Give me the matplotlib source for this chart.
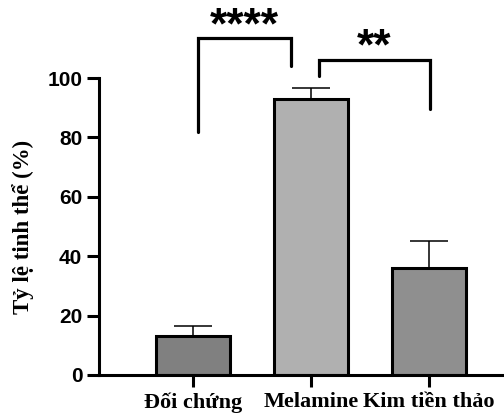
import matplotlib.pyplot as plt
import numpy as np

groups = ["Đối chứng", "Melamine", "Kim tiền thảo"]
means = [13, 93, 36]
errs = [3.6, 3.5, 9.2]
colors = ["#808080", "#b0b0b0", "#8f8f8f"]
ylabel = "Tỷ lệ tinh thể (%)"
yticks = [0, 20, 40, 60, 80, 100]

# significance brackets: (x1, x2, top, left_end, right_end, label, label_y)
sig = [(0.04, 0.83, 113.5, 82, 104, "****", 113.2),
       (1.07, 2.01, 106, 100.7, 89.5, "**", 106.2)]

fig = plt.figure(figsize=(5.04, 4.2), dpi=100)
ax = fig.add_axes([99 / 504, 45 / 420, 405 / 504, 375 / 420])

x = np.arange(len(groups))
ax.bar(x, means, width=0.63, color=colors, edgecolor="black", linewidth=2.2, zorder=2)
ax.errorbar(x, means, yerr=[np.zeros(3), errs], fmt="none", ecolor="black",
            elinewidth=1.1, capsize=14, capthick=1.1, zorder=1)

for x1, x2, top, l, r, lab, ly in sig:
    ax.plot([x1, x1, x2, x2], [l, top, top, r], color="black", lw=2.3,
            solid_capstyle="round", solid_joinstyle="miter", clip_on=False)
    ax.text((x1 + x2) / 2, ly, lab, ha="center", va="baseline",
            fontsize=32, fontweight="bold", family="Liberation Sans")

ax.set_xlim(-0.8, 2.64)
ax.set_ylim(0, 126.3)
ax.set_yticks(yticks)
ax.set_yticklabels([str(t) for t in yticks], fontsize=15, fontweight="bold",
                   family="Liberation Sans")
ax.set_xticks(x)
ax.set_xticklabels(groups, fontsize=16, fontweight="bold", family="Liberation Serif")
ax.set_ylabel(ylabel, fontsize=16.5, fontweight="bold", family="Liberation Serif")
ax.yaxis.set_label_coords(-0.16, 50 / 126.3)

ax.spines["top"].set_visible(False)
ax.spines["right"].set_visible(False)
ax.spines["left"].set_linewidth(2.2)
ax.spines["bottom"].set_linewidth(2.2)
ax.spines["left"].set_bounds(0, 100)
ax.tick_params(axis="both", width=2.2, length=8.5, direction="out")
ax.tick_params(axis="x", pad=4)

fig.savefig("out.png", dpi=100)
